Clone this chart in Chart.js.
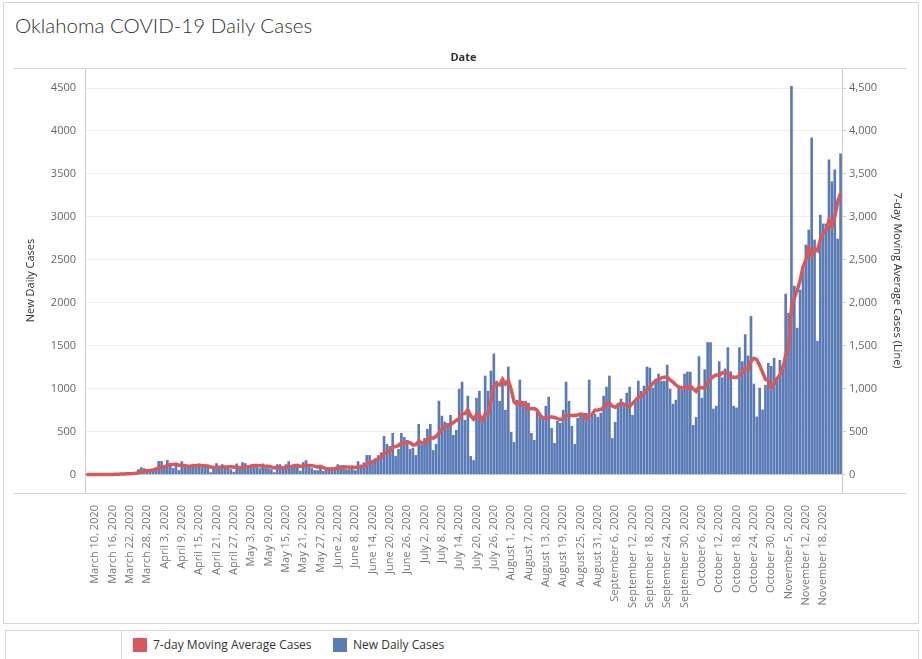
<!DOCTYPE html>
<html lang="en">
<head>
  <meta charset="UTF-8" />
  <title>Oklahoma COVID-19 Daily Cases</title>

  <!-- Chart.js -->
  <script src="https://cdn.jsdelivr.net/npm/chart.js@4.4.0/dist/chart.umd.min.js"></script>

  <style>
    body      { margin:0; width:922px; height:659px; overflow:hidden; background:#fff;
                font-family:"Open Sans", sans-serif; position:relative; }
    .sheet    { position:absolute; left:3px; top:2px; width:914px; height:620px; border:1px solid #d6d6d6; }
    h1        { position:absolute; left:15px; top:13px; margin:0; font:300 20.5px Lato, sans-serif; color:#333; }
    #chart    { position:absolute; left:0; top:0; }

    /* legend strip */
    .legend   { position:absolute; left:5px; top:630px; width:912px; height:40px;
                border:1px solid #d6d6d6; font-size:12px; color:#333; }
    .legend .cell { position:absolute; left:0; top:0; width:115px; height:100%; border-right:1px solid #d6d6d6; }
    .item     { position:absolute; top:5px; display:flex; align-items:center; }
    .swatch   { width:14px; height:14px; margin-right:6px; }
  </style>
</head>
<body>
  <div class="sheet"></div>
  <h1>Oklahoma COVID-19 Daily Cases</h1>
  <canvas id="chart" width="922" height="626"></canvas>

  <div class="legend">
    <div class="cell"></div>
    <div class="item" style="left:127px"><span class="swatch" style="background:#d9585b"></span>7-day Moving Average Cases</div>
    <div class="item" style="left:327px"><span class="swatch" style="background:#5b7bb6"></span>New Daily Cases</div>
  </div>

  <script>
    /* ── data ── */
    const startDate    = [2020, 2, 7];            // March 7, 2020
    const missingDates = ['November 6, 2020'];    // no row for this day

    const tickLabels = [
      'March 10, 2020','March 16, 2020','March 22, 2020','March 28, 2020',
      'April 3, 2020','April 9, 2020','April 15, 2020','April 21, 2020','April 27, 2020',
      'May 3, 2020','May 9, 2020','May 15, 2020','May 21, 2020','May 27, 2020',
      'June 2, 2020','June 8, 2020','June 14, 2020','June 20, 2020','June 26, 2020',
      'July 2, 2020','July 8, 2020','July 14, 2020','July 20, 2020','July 26, 2020',
      'August 1, 2020','August 7, 2020','August 13, 2020','August 19, 2020','August 25, 2020','August 31, 2020',
      'September 6, 2020','September 12, 2020','September 18, 2020','September 24, 2020','September 30, 2020',
      'October 6, 2020','October 12, 2020','October 18, 2020','October 24, 2020','October 30, 2020',
      'November 5, 2020','November 12, 2020','November 18, 2020'
    ];

    const yTicks = [0, 500, 1000, 1500, 2000, 2500, 3000, 3500, 4000, 4500];

    const newCases = [
      0,1,0,1,0,1,1,2,3,2,
      7,5,15,9,14,14,14,25,
      58,80,70,45,45,58,78,153,153,100,165,105,
      72,112,47,151,89,105,105,116,109,93,
      89,89,89,23,85,128,89,116,93,85,
      58,27,124,74,140,128,74,112,85,112,
      70,124,89,70,58,23,116,116,66,116,
      151,78,85,120,39,140,163,105,70,47,
      47,93,39,70,78,78,70,116,105,105,
      58,58,94,47,152,113,137,222,222,156,
      183,222,254,445,351,328,480,211,293,480,
      433,398,293,308,222,585,347,421,527,585,
      281,351,855,680,612,597,690,456,515,994,
      1076,632,913,211,164,889,971,632,1147,971,
      1205,1404,1088,854,1111,749,1252,491,374,866,
      1100,854,854,831,480,398,725,679,663,796,
      901,538,363,620,597,749,1076,854,562,351,
      655,679,714,714,1100,679,702,667,714,913,
      1018,1147,421,608,831,878,831,948,1018,690,
      842,1088,971,1030,1252,1240,1006,1088,1170,1088,
      1088,1275,995,819,866,1006,983,1170,1193,1193,
      573,665,1373,889,1221,1537,1537,764,796,1314,
      1127,1229,1478,1197,796,776,1478,1314,1630,1381,
      1841,1053,671,1006,753,1041,1295,1260,1354,1097,
      1330,1272,2101,1879,4520,2194,1704,2147,2381,2672,
      2847,3921,2731,1552,3022,2918,2918,3664,3408,3548,2742,3734
    ];

    const movingAvg = [
      0,1,0,1,0,1,1,1,1,1,
      2,3,5,6,8,9,11,14,21,31,
      39,44,48,54,62,76,86,90,107,116,
      118,123,108,107,106,97,97,104,103,110,
      101,101,99,87,82,85,85,88,89,88,
      93,85,85,82,86,91,89,97,105,104,
      103,101,95,95,87,78,79,85,77,81,
      92,95,104,105,94,104,111,104,103,98,
      87,95,81,67,63,65,68,78,79,89,
      87,84,87,83,88,90,94,118,141,150,
      169,179,199,243,262,277,323,327,337,370,
      368,375,370,345,347,388,369,368,386,428,
      424,442,481,529,556,566,581,606,629,649,
      706,709,754,685,644,697,694,630,704,712,
      854,1031,1060,1043,1111,1055,1095,993,846,814,
      849,812,827,767,766,769,749,689,661,653,
      663,671,666,651,640,652,692,685,689,687,
      692,704,699,647,682,699,749,751,756,784,
      828,834,797,784,807,831,819,809,791,829,
      863,899,913,941,984,1016,1061,1096,1108,1125,
      1133,1136,1101,1075,1043,1020,1005,1016,1005,1033,
      998,969,1021,1008,1015,1064,1114,1141,1160,1151,
      1185,1186,1178,1129,1134,1131,1154,1181,1238,1225,
      1317,1353,1338,1271,1191,1107,1094,1011,1054,1115,
      1161,1236,1387,1470,1936,2056,2143,2260,2418,2500,
      2638,2552,2629,2607,2732,2809,2844,2961,2888,3004,3174,3276
    ];

    /* ── one label per row, calendar days minus the missing one ── */
    const monthNames = ['January','February','March','April','May','June','July',
                        'August','September','October','November','December'];
    const dates = [];
    for (let k = 0; dates.length < newCases.length; k++) {
      const d = new Date(Date.UTC(startDate[0], startDate[1], startDate[2] + k));
      const s = monthNames[d.getUTCMonth()] + ' ' + d.getUTCDate() + ', ' + d.getUTCFullYear();
      if (!missingDates.includes(s)) dates.push(s);
    }
    const tickSet = new Set(tickLabels);

    Chart.defaults.font.family = '"Open Sans", sans-serif';
    Chart.defaults.font.size   = 11;
    Chart.defaults.color       = '#6b6b6b';

    /* header text + sheet lines */
    const frame = {
      id:'frame',
      afterDraw(chart){
        const {ctx, chartArea:a} = chart;
        ctx.save();
        ctx.strokeStyle = '#d4d4d4';
        ctx.lineWidth = 1;
        ctx.beginPath();
        ctx.moveTo(14, a.top + 0.5);    ctx.lineTo(906, a.top + 0.5);
        ctx.moveTo(14, a.bottom + 0.5); ctx.lineTo(906, a.bottom + 0.5);
        ctx.stroke();
        ctx.fillStyle = '#333';
        ctx.font = 'bold 11px "Open Sans", sans-serif';
        ctx.textAlign = 'center';
        ctx.textBaseline = 'middle';
        ctx.fillText('Date', (a.left + a.right) / 2, 58);
        ctx.restore();
      }
    };

    const yMin = -215, yMax = 4733;
    const fixTicks = s => { s.ticks = yTicks.map(v => ({ value:v })); };

    new Chart(document.getElementById('chart'), {
      type:'bar',
      data:{
        labels: dates,
        datasets:[
          {
            type:'line',
            label:'7-day Moving Average Cases',
            data: movingAvg,
            yAxisID:'y2',
            borderColor:'#d9585b',
            borderWidth:3.5,
            pointRadius:0,
            tension:0,
            order:0
          },
          {
            label:'New Daily Cases',
            data: newCases,
            yAxisID:'y',
            backgroundColor:'#5b7bb6',
            barThickness:2,
            order:1
          }
        ]
      },
      options:{
        responsive:false,
        animation:false,
        layout:{ padding:{ top:68, left:14, right:16, bottom:0 } },
        plugins:{ legend:{display:false}, tooltip:{enabled:false} },
        scales:{
          x:{
            grid:{ display:false },
            border:{ display:false },
            ticks:{
              autoSkip:false, minRotation:90, maxRotation:90, padding:4, color:'#777',
              callback:(v, i) => tickSet.has(dates[i]) ? dates[i] : null
            },
            afterFit: s => { s.height = 133; }
          },
          y:{
            position:'left',
            min:yMin, max:yMax,
            afterBuildTicks: fixTicks,
            grid:{ color:'#eeeeee', drawTicks:false },
            border:{ display:true, color:'#d0d0d0' },
            ticks:{ padding:9, color:'#666', callback: v => String(v) },
            title:{ display:true, text:'New Daily Cases', color:'#333', padding:{top:10, bottom:0} },
            afterFit: s => { s.width = 71; }
          },
          y2:{
            position:'right',
            min:yMin, max:yMax,
            afterBuildTicks: fixTicks,
            grid:{ drawOnChartArea:false, drawTicks:true, tickLength:4, color:'#cccccc' },
            border:{ display:true, color:'#d0d0d0' },
            ticks:{ padding:3, color:'#666', callback: v => v.toLocaleString('en-US') },
            title:{ display:true, text:'7-day Moving Average Cases (Line)', color:'#333', padding:{top:2, bottom:0} },
            afterFit: s => { s.width = 64; }
          }
        }
      },
      plugins:[frame]
    });
  </script>
</body>
</html>
